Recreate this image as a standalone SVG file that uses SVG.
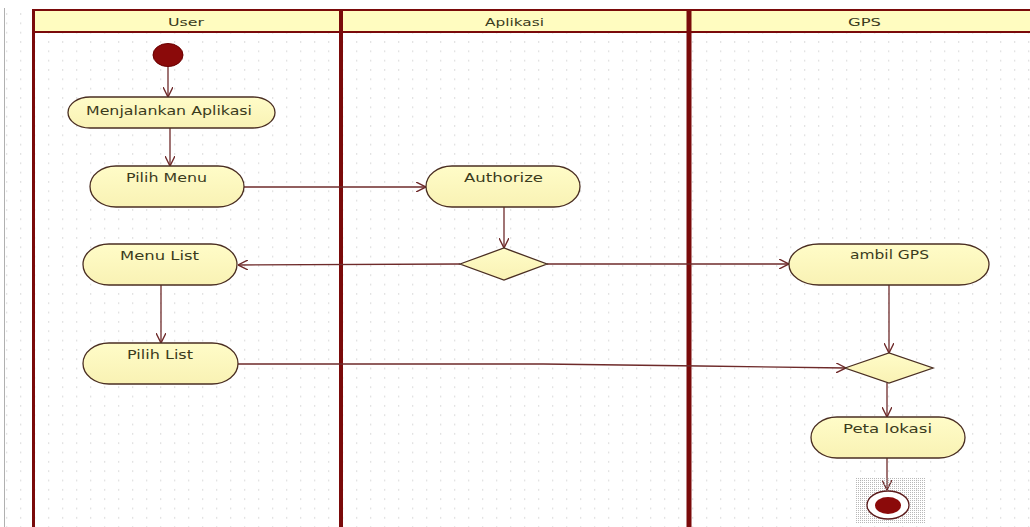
<svg xmlns="http://www.w3.org/2000/svg" width="1030" height="527" viewBox="0 0 1030 527">
<defs>
<style>
.lane{stroke:#7a0a0a;fill:none}
.node{fill:url(#ng);stroke:#4a2e22;stroke-width:1.3}
.lbl{font-family:"DejaVu Sans","Liberation Sans",sans-serif;font-size:12.5px;fill:#3b3b1c;text-anchor:start}
.hdr{font-family:"DejaVu Sans","Liberation Sans",sans-serif;font-size:10.5px;fill:#3b3b1c}
.edge{stroke:#6e2a2a;stroke-width:1.3;fill:none;marker-end:url(#arr)}
</style>
<linearGradient id="ng" x1="0" y1="0" x2="0" y2="1">
<stop offset="0" stop-color="#fffcc8"/>
<stop offset="1" stop-color="#f9f2b4"/>
</linearGradient>
<pattern id="grid" width="14" height="9.33" patternUnits="userSpaceOnUse">
<rect x="6" y="4" width="1.3" height="1.3" fill="#d6d6d6"/>
</pattern>
<pattern id="hatch" width="2" height="2" patternUnits="userSpaceOnUse">
<rect width="1" height="1" fill="#9a9a9a"/>
</pattern>
<marker id="arr" viewBox="0 0 10 10" refX="10" refY="5" markerWidth="10" markerHeight="10" markerUnits="userSpaceOnUse" orient="auto">
<path d="M0,0 L10,5 L0,10" fill="none" stroke="#6e2a2a" stroke-width="1.4"/>
</marker>
</defs>
<rect width="1030" height="527" fill="#ffffff"/>
<rect x="5" y="8" width="1025" height="519" fill="url(#grid)"/>
<line x1="4.5" y1="8" x2="4.5" y2="527" stroke="#b0b0b0" stroke-width="1"/>
<g id="lanes">
<rect x="33" y="10" width="1000" height="22" fill="#fffcc0" stroke="#7a0a0a" stroke-width="2"/>
<line class="lane" x1="33.5" y1="10" x2="33.5" y2="527" stroke-width="3"/>
<line class="lane" x1="341" y1="10" x2="341" y2="527" stroke-width="4"/>
<line class="lane" x1="689" y1="10" x2="689" y2="527" stroke-width="5"/>
<text class="hdr" x="168" y="26" textLength="36" lengthAdjust="spacingAndGlyphs">User</text>
<text class="hdr" x="485" y="26" textLength="59" lengthAdjust="spacingAndGlyphs">Aplikasi</text>
<text class="hdr" x="848" y="26" textLength="33" lengthAdjust="spacingAndGlyphs">GPS</text>
</g>
<g id="connectors">
<line class="edge" x1="168" y1="66" x2="168" y2="97"/>
<line class="edge" x1="170" y1="128" x2="170" y2="166"/>
<line class="edge" x1="244" y1="187" x2="426" y2="187"/>
<line class="edge" x1="504" y1="207" x2="504" y2="248"/>
<line class="edge" x1="460" y1="264" x2="238" y2="265"/>
<line class="edge" x1="547" y1="264" x2="789" y2="264"/>
<line class="edge" x1="161" y1="285" x2="161" y2="343"/>
<polyline class="edge" points="238,364 543,364 700,366 846,368"/>
<line class="edge" x1="889" y1="285" x2="889" y2="353"/>
<line class="edge" x1="887" y1="383" x2="887" y2="417"/>
<line class="edge" x1="887" y1="458" x2="887" y2="490"/>
</g>
<g id="start">
<ellipse cx="168" cy="55" rx="15" ry="11.5" fill="#8b0a0a" stroke="#6a0000" stroke-width="1"/>
</g>
<g id="menjalankan">
<rect class="node" x="68" y="97" width="207" height="31" rx="22" ry="15.5"/>
<text class="lbl" x="86" y="115" textLength="166" lengthAdjust="spacingAndGlyphs">Menjalankan Aplikasi</text>
</g>
<g id="pilihMenu">
<rect class="node" x="90" y="166" width="154" height="41" rx="26" ry="20.5"/>
<text class="lbl" x="126" y="182" textLength="81" lengthAdjust="spacingAndGlyphs">Pilih Menu</text>
</g>
<g id="authorize">
<rect class="node" x="426" y="166" width="154" height="41" rx="26" ry="20.5"/>
<text class="lbl" x="464" y="182" textLength="79" lengthAdjust="spacingAndGlyphs">Authorize</text>
</g>
<g id="decision1">
<polygon class="node" points="460,264 504,248 547,264 504,280"/>
</g>
<g id="menuList">
<rect class="node" x="83" y="244" width="154" height="41" rx="26" ry="20.5"/>
<text class="lbl" x="120" y="260" textLength="79" lengthAdjust="spacingAndGlyphs">Menu List</text>
</g>
<g id="ambilGPS">
<rect class="node" x="789" y="244" width="200" height="41" rx="30" ry="20.5"/>
<text class="lbl" x="850" y="259" textLength="79" lengthAdjust="spacingAndGlyphs">ambil GPS</text>
</g>
<g id="pilihList">
<rect class="node" x="83" y="343" width="155" height="41" rx="26" ry="20.5"/>
<text class="lbl" x="127" y="359" textLength="66" lengthAdjust="spacingAndGlyphs">Pilih List</text>
</g>
<g id="decision2">
<polygon class="node" points="845,368 889,353 933,368 889,383"/>
</g>
<g id="petaLokasi">
<rect class="node" x="811" y="417" width="154" height="41" rx="26" ry="20.5"/>
<text class="lbl" x="843" y="433" textLength="89" lengthAdjust="spacingAndGlyphs">Peta lokasi</text>
</g>
<g id="end">
<rect x="855" y="477" width="70" height="46" fill="url(#hatch)" opacity="0.7"/>
<ellipse cx="888" cy="505" rx="21" ry="14" fill="#ffffff" stroke="#5a1a1a" stroke-width="1.3"/>
<ellipse cx="888" cy="505.5" rx="13" ry="8.5" fill="#8b0a0a"/>
</g>
</svg>
